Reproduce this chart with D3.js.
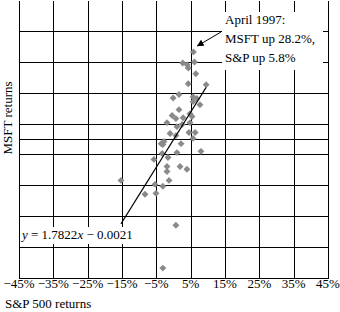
<!DOCTYPE html>
<html>
<head>
<meta charset="utf-8">
<script src="https://d3js.org/d3.v7.min.js"></script>
<style>
  body { margin: 0; background: #fff; }
  text { font-family: "Liberation Serif", "Times New Roman", serif; font-size: 13px; fill: #000; }
</style>
</head>
<body>
<div id="chart"></div>
<script>
// monthly returns, percent
var spReturns = [5.8, 2.7, 4.0, 4.3, 6.1, 6.5, 4.3, 9.5, -0.1, 1.6, 5.7, 6.8, 5.7, 7.7,
                 1.6, -0.4, 0.7, 4.8, 5.4, -1.9, 2.8, 2.5, 1.0, -1.0, 4.5, 6.3, 5.7,
                 -3.6, -2.8, -3.1, 0.7, 2.2, -3.3, 1.0, 8.0, -5.7, -1.6, -1.9, -1.9,
                 1.9, 3.9, -1.3, -5.4, -3.1, -8.3, -5.1, 0.7, -3.1, -15.3, 4.8];
var msftReturns = [28.2, 24.6, 24.0, 23.0, 24.9, 21.1, 17.9, 17.6, 13.3, 14.4, 13.7, 13.1, 12.1, 11.1,
                   9.5, 7.6, 6.6, 8.2, 7.3, 5.3, 6.9, 4.7, 4.0, 1.8, 2.1, 2.1, 0.2,
                   -1.5, -0.8, -1.8, 1.1, -1.5, -4.7, -4.4, -4.0, -6.6, -6.0, -8.9, -10.5,
                   -8.9, -9.8, -13.4, -14.7, -15.3, -17.9, -17.6, -27.9, -41.8, -13.4, 5.3];

var tickValues = [-45, -35, -25, -15, -5, 5, 15, 25, 35, 45];
var tickLabels = ["\u221245%", "\u221235%", "\u221225%", "\u221215%", "\u22125%", "5%", "15%", "25%", "35%", "45%"];

var slope = 1.7822;
var intercept = -0.21; // -0.0021 as percent

function init() {
    var w = 340;
    var h = 312;

    var xScale = d3.scaleLinear()
                .domain([-45, 45])
                .range([19, 328]);

    var yScale = d3.scaleLinear()
                .domain([-45, 45])
                .range([278, 0]);

    var svg = d3.select("#chart")
                .append("svg")
                .attr("width", w)
                .attr("height", h);

    svg.append("clipPath")
        .attr("id", "crop")
        .append("rect")
        .attr("x", 0)
        .attr("y", 1)
        .attr("width", w)
        .attr("height", h);

    var plot = svg.append("g").attr("clip-path", "url(#crop)");

    // grid
    plot.selectAll(".vgrid")
        .data(tickValues)
        .enter()
        .append("line")
        .attr("class", "vgrid")
        .attr("x1", function(d) { return Math.round(xScale(d)) + 0.5; })
        .attr("x2", function(d) { return Math.round(xScale(d)) + 0.5; })
        .attr("y1", yScale(45))
        .attr("y2", Math.round(yScale(-45)) + 1)
        .attr("stroke", "#000");

    plot.selectAll(".hgrid")
        .data(tickValues.concat([0]))
        .enter()
        .append("line")
        .attr("class", "hgrid")
        .attr("x1", xScale(-45))
        .attr("x2", Math.round(xScale(45)) + 1)
        .attr("y1", function(d) { return Math.round(yScale(d)) + 0.5; })
        .attr("y2", function(d) { return Math.round(yScale(d)) + 0.5; })
        .attr("stroke", "#000");

    // points
    var pts = spReturns.map(function(d, i) { return [d, msftReturns[i]]; });
    var sym = d3.symbol().type(d3.symbolSquare).size(24);

    plot.selectAll(".pt")
        .data(pts)
        .enter()
        .append("path")
        .attr("class", "pt")
        .attr("d", sym)
        .attr("transform", function(d) {
            return "translate(" + xScale(d[0]) + "," + yScale(d[1]) + ") rotate(45)";
        })
        .attr("fill", "#8a8a8a");

    // trend line over the data range
    var ext = d3.extent(spReturns);
    plot.append("line")
        .attr("x1", xScale(ext[0]))
        .attr("y1", yScale(slope * ext[0] + intercept))
        .attr("x2", xScale(ext[1]))
        .attr("y2", yScale(slope * ext[1] + intercept))
        .attr("stroke", "#000")
        .attr("stroke-width", 1.1);

    // equation label
    svg.append("rect")
        .attr("x", 20)
        .attr("y", 227)
        .attr("width", 116)
        .attr("height", 17)
        .attr("fill", "#fff");

    var eq = svg.append("text").attr("x", 22).attr("y", 239);
    eq.append("tspan").attr("font-style", "italic").text("y");
    eq.append("tspan").text(" = 1.7822");
    eq.append("tspan").attr("font-style", "italic").text("x");
    eq.append("tspan").text(" \u2212 0.0021");

    // April 1997 note
    svg.append("rect")
        .attr("x", 222)
        .attr("y", 12)
        .attr("width", 101)
        .attr("height", 58)
        .attr("fill", "#fff");

    var note = ["April 1997:", "MSFT up 28.2%,", "S&P up 5.8%"];
    svg.selectAll(".note")
        .data(note)
        .enter()
        .append("text")
        .attr("class", "note")
        .attr("x", 225)
        .attr("y", function(d, i) { return 24 + i * 19; })
        .text(function(d) { return d; });

    svg.append("defs").append("marker")
        .attr("id", "head")
        .attr("viewBox", "0 0 10 10")
        .attr("refX", 9)
        .attr("refY", 5)
        .attr("markerWidth", 7)
        .attr("markerHeight", 7)
        .attr("markerUnits", "userSpaceOnUse")
        .attr("orient", "auto")
        .append("path")
        .attr("d", "M0,0L10,5L0,10z")
        .attr("fill", "#000");

    var px = xScale(5.8), py = yScale(28.2);
    svg.append("line")
        .attr("x1", 221)
        .attr("y1", 32)
        .attr("x2", px + 4)
        .attr("y2", py - 6)
        .attr("stroke", "#000")
        .attr("marker-end", "url(#head)");

    // tick labels
    svg.selectAll(".xlab")
        .data(tickValues)
        .enter()
        .append("text")
        .attr("class", "xlab")
        .attr("x", function(d) { return xScale(d); })
        .attr("y", 288)
        .attr("text-anchor", "middle")
        .text(function(d, i) { return tickLabels[i]; });

    svg.append("text")
        .attr("x", 5)
        .attr("y", 308)
        .text("S&P 500 returns");

    svg.append("text")
        .attr("transform", "translate(12,118) rotate(-90)")
        .attr("text-anchor", "middle")
        .text("MSFT returns");
}

window.onload = init;
</script>
</body>
</html>
